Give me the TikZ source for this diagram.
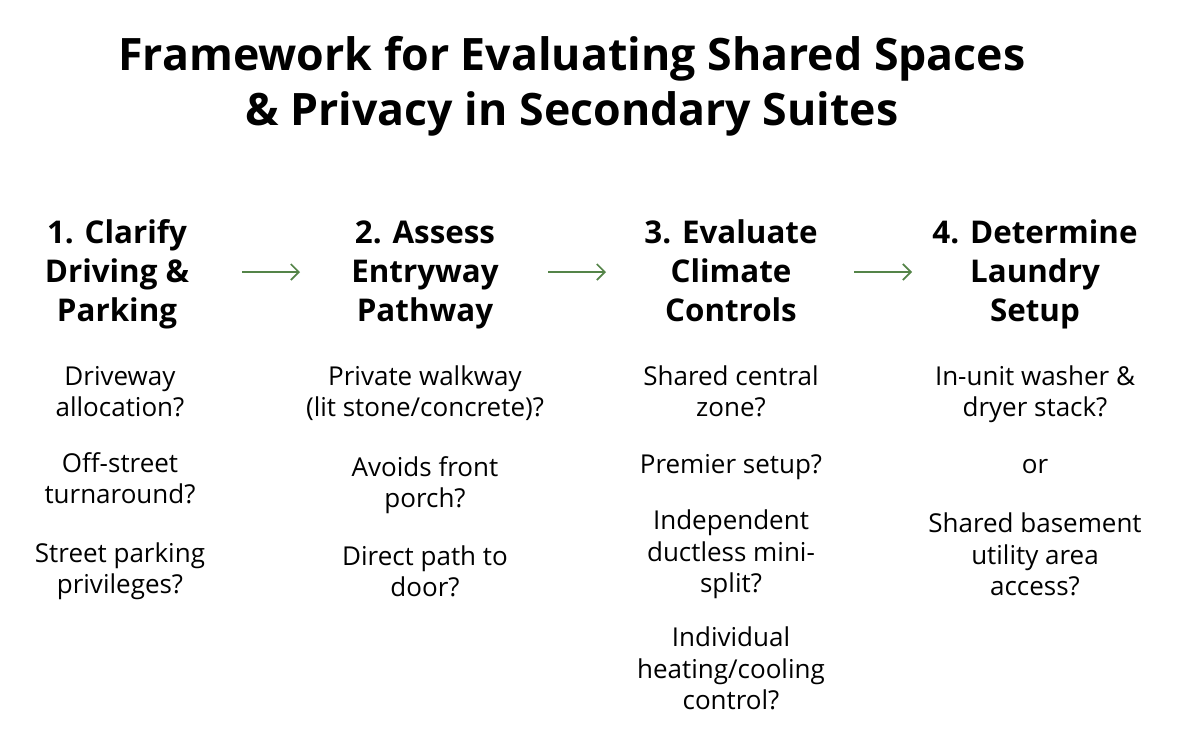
\documentclass[tikz,border=0pt]{standalone}
\usepackage{fontspec}
\usetikzlibrary{arrows.meta}
\setmainfont{Open Sans}
\definecolor{arr}{RGB}{84,132,72}
\begin{document}
\begin{tikzpicture}[x=0.75pt,y=-0.75pt,
 title/.style={font=\fontsize{33.5}{41}\selectfont\bfseries,align=center,text=black},
 head/.style={font=\fontsize{23.5}{29.3}\selectfont\bfseries,align=center},
 body/.style={font=\fontsize{19.5}{23.5}\selectfont,align=center},
 arrow/.style={draw=arr,line width=1.3pt,-{Straight Barb[length=6pt,width=12pt]}}]
\useasboundingbox (0,0) rectangle (1178,744);
\node[title] (t) at (572,87) {\strut Framework for Evaluating Shared Spaces\\\& Privacy in Secondary Suites\strut};
\node[head] (h1) at (117,275) {\strut 1. Clarify\\Driving \&\\Parking\strut};
\node[head] (h2) at (425,275) {\strut 2. Assess\\Entryway\\Pathway\strut};
\node[head] (h3) at (731,275) {\strut 3. Evaluate\\Climate\\Controls\strut};
\node[head] (h4) at (1035,275) {\strut 4. Determine\\Laundry\\Setup\strut};
\coordinate (a1) at (242,272); \coordinate (b1) at (300,272);
\coordinate (a2) at (548,272); \coordinate (b2) at (606,272);
\coordinate (a3) at (854,272); \coordinate (b3) at (912,272);
\draw[arrow] (a1) -- (b1);
\draw[arrow] (a2) -- (b2);
\draw[arrow] (a3) -- (b3);
\node[body] (c1a) at (120,395) {\strut Driveway\\allocation?\strut};
\node[body] (c1b) at (120,482) {\strut Off-street\\turnaround?\strut};
\node[body] (c1c) at (120,572) {\strut Street parking\\privileges?\strut};
\node[body] (c2a) at (425,395) {\strut Private walkway\\(lit stone/concrete)?\strut};
\node[body] (c2b) at (425,486) {\strut Avoids front\\porch?\strut};
\node[body] (c2c) at (425,575) {\strut Direct path to\\door?\strut};
\node[body] (c3a) at (731,395) {\strut Shared central\\zone?\strut};
\node[body] (c3b) at (731,467) {\strut Premier setup?};
\node[body] (c3c) at (731,555) {\strut Independent\\ductless mini-\\split?\strut};
\node[body] (c3d) at (731,672) {\strut Individual\\heating/cooling\\control?\strut};
\node[body] (c4a) at (1035,395) {\strut In-unit washer \&\\dryer stack?\strut};
\node[body] (c4b) at (1035,467) {\strut or};
\node[body] (c4c) at (1035,558) {\strut Shared basement\\utility area\\access?\strut};
\end{tikzpicture}
\end{document}
